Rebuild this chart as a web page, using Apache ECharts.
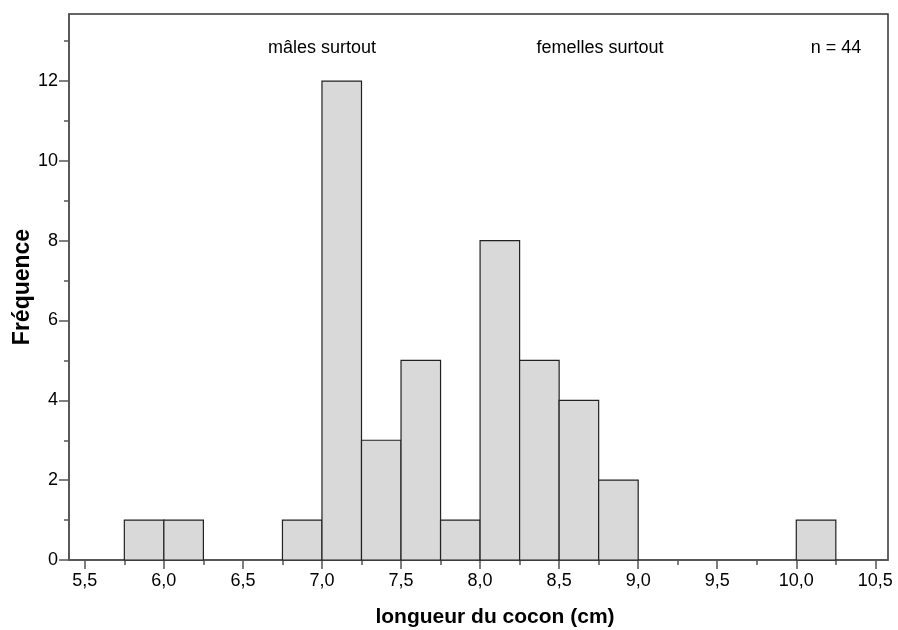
<!DOCTYPE html>
<html><head><meta charset="utf-8">
<script src="https://cdn.jsdelivr.net/npm/echarts@6/dist/echarts.min.js"></script>
<style>html,body{margin:0;padding:0;background:#fff}#c{width:898px;height:630px}</style>
</head><body><div id="c"></div>
<script>
const binStarts = [5.75, 6.0, 6.75, 7.0, 7.25, 7.5, 7.75, 8.0, 8.25, 8.5, 8.75, 10.0];
const counts    = [1, 1, 1, 12, 3, 5, 1, 8, 5, 4, 2, 1];
const binWidth = 0.25;
const xMajorTicks = [5.5, 6.0, 6.5, 7.0, 7.5, 8.0, 8.5, 9.0, 9.5, 10.0, 10.5];
const xMinorTicks = [5.75, 6.25, 6.75, 7.25, 7.75, 8.25, 8.75, 9.25, 9.75, 10.25];
const yMajorTicks = [0, 2, 4, 6, 8, 10, 12];
const yMinorTicks = [1, 3, 5, 7, 9, 11, 13];
const annotations = ['mâles surtout', 'femelles surtout', 'n = 44'];
const xTitle = 'longueur du cocon (cm)';
const yTitle = 'Fréquence';

const FONT = '"Liberation Sans", Arial, sans-serif';
const chart = echarts.init(document.getElementById('c'), null, {renderer: 'canvas'});
const XMIN = 5.4, XMAX = 10.58, YMIN = 0, YMAX = 13.68;
const axisCol = '#555';

function xAxisCfg(ticks, len, labels, showLine) {
  return {
    type: 'value', min: XMIN, max: XMAX, position: 'bottom',
    axisLine: {show: showLine, onZero: false, lineStyle: {color: axisCol, width: 1.5}},
    axisTick: {show: true, length: len, customValues: ticks, lineStyle: {color: axisCol, width: 1.5}},
    axisLabel: labels ? {show: true, customValues: ticks, margin: 12, color: '#000', fontSize: 18, fontFamily: FONT,
      formatter: v => v.toFixed(1).replace('.', ',')} : {show: false},
    splitLine: {show: false}
  };
}
function yAxisCfg(ticks, len, labels, showLine) {
  return {
    type: 'value', min: YMIN, max: YMAX, position: 'left',
    axisLine: {show: showLine, onZero: false, lineStyle: {color: axisCol, width: 1.5}},
    axisTick: {show: true, length: len, customValues: ticks, lineStyle: {color: axisCol, width: 1.5}},
    axisLabel: labels ? {show: true, customValues: ticks, margin: 11, color: '#000', fontSize: 18, fontFamily: FONT} : {show: false},
    splitLine: {show: false}
  };
}

const data = binStarts.map((s, i) => [s, s + binWidth, counts[i]]);

chart.setOption({
  animation: false,
  grid: {left: 69, top: 14, right: 10, bottom: 70, show: true, borderColor: '#333', borderWidth: 1.5, backgroundColor: 'transparent'},
  xAxis: [xAxisCfg(xMajorTicks, 9, true, true), xAxisCfg(xMinorTicks, 5, false, false)],
  yAxis: [yAxisCfg(yMajorTicks, 10, true, true), yAxisCfg(yMinorTicks, 5, false, false)],
  series: [{
    type: 'custom',
    xAxisIndex: 0, yAxisIndex: 0,
    data: data,
    renderItem: function (params, api) {
      const p0 = api.coord([api.value(0), api.value(2)]);
      const p1 = api.coord([api.value(1), 0]);
      return {
        type: 'rect',
        shape: {x: p0[0], y: p0[1], width: p1[0] - p0[0], height: p1[1] - p0[1]},
        style: {fill: '#d9d9d9', stroke: '#222', lineWidth: 1.2}
      };
    }
  }],
  graphic: [
    {type: 'text', x: 322, y: 48, style: {text: annotations[0], font: '18px ' + FONT, fill: '#000', align: 'center', verticalAlign: 'middle'}},
    {type: 'text', x: 600, y: 48, style: {text: annotations[1], font: '18px ' + FONT, fill: '#000', align: 'center', verticalAlign: 'middle'}},
    {type: 'text', x: 836, y: 48, style: {text: annotations[2], font: '18px ' + FONT, fill: '#000', align: 'center', verticalAlign: 'middle'}},
    {type: 'text', x: 495, y: 617, style: {text: xTitle, font: 'bold 21px ' + FONT, fill: '#000', align: 'center', verticalAlign: 'middle'}},
    {type: 'text', x: 23, y: 287, rotation: Math.PI / 2, style: {text: yTitle, font: 'bold 23px ' + FONT, fill: '#000', align: 'center', verticalAlign: 'middle'}}
  ]
});
</script></body></html>
